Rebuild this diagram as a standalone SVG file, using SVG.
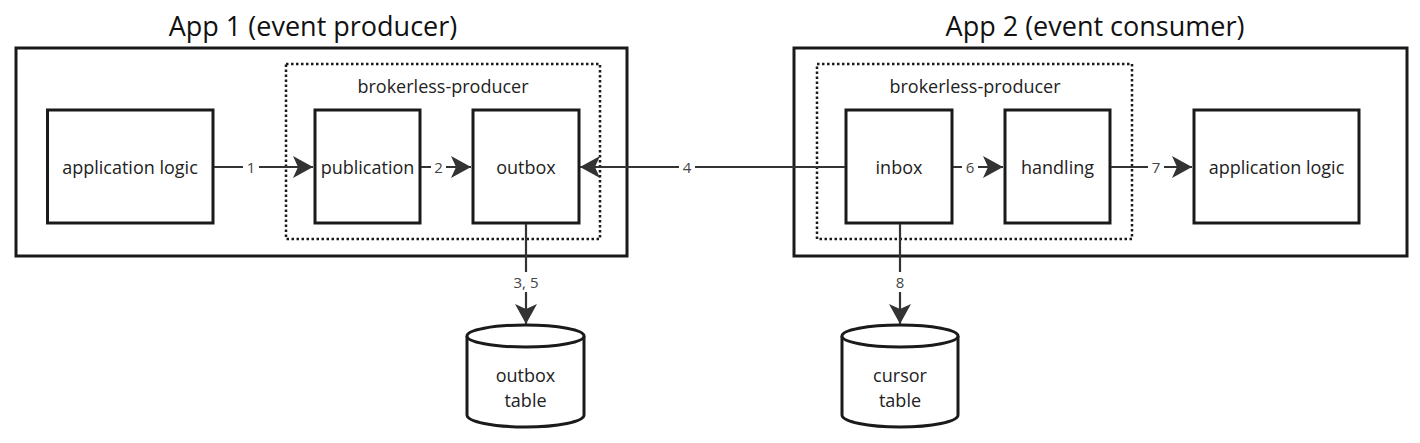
<svg xmlns="http://www.w3.org/2000/svg" width="1420" height="443" viewBox="0 0 1420 443">
<defs>
<style>
.box{fill:#fff;stroke:#1a1a1a;stroke-width:3}
.outer{fill:none;stroke:#1a1a1a;stroke-width:3}
.dot{fill:none;stroke:#1a1a1a;stroke-width:2.5;stroke-dasharray:2.5 2.5}
.ln{fill:none;stroke:#333;stroke-width:2.2}
.t{font-family:"Open Sans","Noto Sans",sans-serif;font-size:18px;fill:#222;text-anchor:middle}
.title{font-family:"Open Sans","Noto Sans",sans-serif;font-size:27px;fill:#111;text-anchor:middle}
.num{font-family:"Open Sans","Noto Sans",sans-serif;font-size:15px;fill:#444;text-anchor:middle}
.cyl{fill:#fff;stroke:#1a1a1a;stroke-width:3}
</style>
<marker id="arr" markerUnits="userSpaceOnUse" markerWidth="22" markerHeight="24" refX="20" refY="11" orient="auto">
<path d="M0,0 L20,11 L0,22 L5,11 Z" fill="#333"/>
</marker>
</defs>

<g id="app1">
<rect class="outer" x="16" y="48" width="611" height="208"/>
<text class="title" x="313" y="36">App 1 (event producer)</text>
</g>
<g id="producer-group">
<rect class="dot" x="286" y="64" width="314" height="175"/>
<text class="t" x="443" y="93">brokerless-producer</text>
</g>
<g id="app2">
<rect class="outer" x="794" y="48" width="613" height="208"/>
<text class="title" x="1095" y="36">App 2 (event consumer)</text>
</g>
<g id="consumer-group">
<rect class="dot" x="817" y="64" width="315" height="175"/>
<text class="t" x="975" y="93">brokerless-producer</text>
</g>

<g id="app1-logic">
<rect class="box" x="47.5" y="110" width="165.5" height="113"/>
<text class="t" x="130" y="173.5">application logic</text>
</g>
<g id="publication">
<rect class="box" x="315" y="110" width="105" height="113"/>
<text class="t" x="367.5" y="173.5">publication</text>
</g>
<g id="outbox">
<rect class="box" x="473" y="110" width="106" height="113"/>
<text class="t" x="526" y="173.5">outbox</text>
</g>
<g id="inbox">
<rect class="box" x="846" y="110" width="106" height="113"/>
<text class="t" x="899" y="173.5">inbox</text>
</g>
<g id="handling">
<rect class="box" x="1005" y="110" width="105" height="113"/>
<text class="t" x="1057.5" y="173.5">handling</text>
</g>
<g id="app2-logic">
<rect class="box" x="1194" y="110" width="165" height="113"/>
<text class="t" x="1276.5" y="173.5">application logic</text>
</g>

<g id="outbox-table">
<path class="cyl" d="M467,336 L467,415 A58.5,12 0 0 0 584,415 L584,336 A58.5,11 0 0 0 467,336 Z"/>
<path class="cyl" d="M467,336 A58.5,11 0 0 0 584,336"/>
<text class="t" x="525.5" y="382">outbox</text>
<text class="t" x="525.5" y="407">table</text>
</g>
<g id="cursor-table">
<path class="cyl" d="M842,336 L842,415 A58,12 0 0 0 958,415 L958,336 A58,11 0 0 0 842,336 Z"/>
<path class="cyl" d="M842,336 A58,11 0 0 0 958,336"/>
<text class="t" x="900" y="382">cursor</text>
<text class="t" x="900" y="407">table</text>
</g>

<g id="connectors">
<line class="ln" x1="214" y1="167" x2="313" y2="167" marker-end="url(#arr)"/>
<rect x="243" y="158" width="16" height="18" fill="#fff"/>
<text class="num" x="251" y="172.5">1</text>

<line class="ln" x1="421" y1="167" x2="471" y2="167" marker-end="url(#arr)"/>
<rect x="431" y="158" width="15" height="18" fill="#fff"/>
<text class="num" x="438.5" y="172.5">2</text>

<line class="ln" x1="845" y1="167" x2="580" y2="167" marker-end="url(#arr)"/>
<rect x="679" y="158" width="16" height="18" fill="#fff"/>
<text class="num" x="687" y="172.5">4</text>

<line class="ln" x1="953" y1="167" x2="1003" y2="167" marker-end="url(#arr)"/>
<rect x="962" y="158" width="16" height="18" fill="#fff"/>
<text class="num" x="970" y="172.5">6</text>

<line class="ln" x1="1111" y1="167" x2="1192" y2="167" marker-end="url(#arr)"/>
<rect x="1148" y="158" width="16" height="18" fill="#fff"/>
<text class="num" x="1156" y="172.5">7</text>

<line class="ln" x1="526" y1="224" x2="526" y2="324" marker-end="url(#arr)"/>
<rect x="508" y="272" width="36" height="20" fill="#fff"/>
<text class="num" x="526" y="288">3, 5</text>

<line class="ln" x1="900" y1="224" x2="900" y2="324" marker-end="url(#arr)"/>
<rect x="891" y="272" width="18" height="20" fill="#fff"/>
<text class="num" x="900" y="288">8</text>
</g>
</svg>
